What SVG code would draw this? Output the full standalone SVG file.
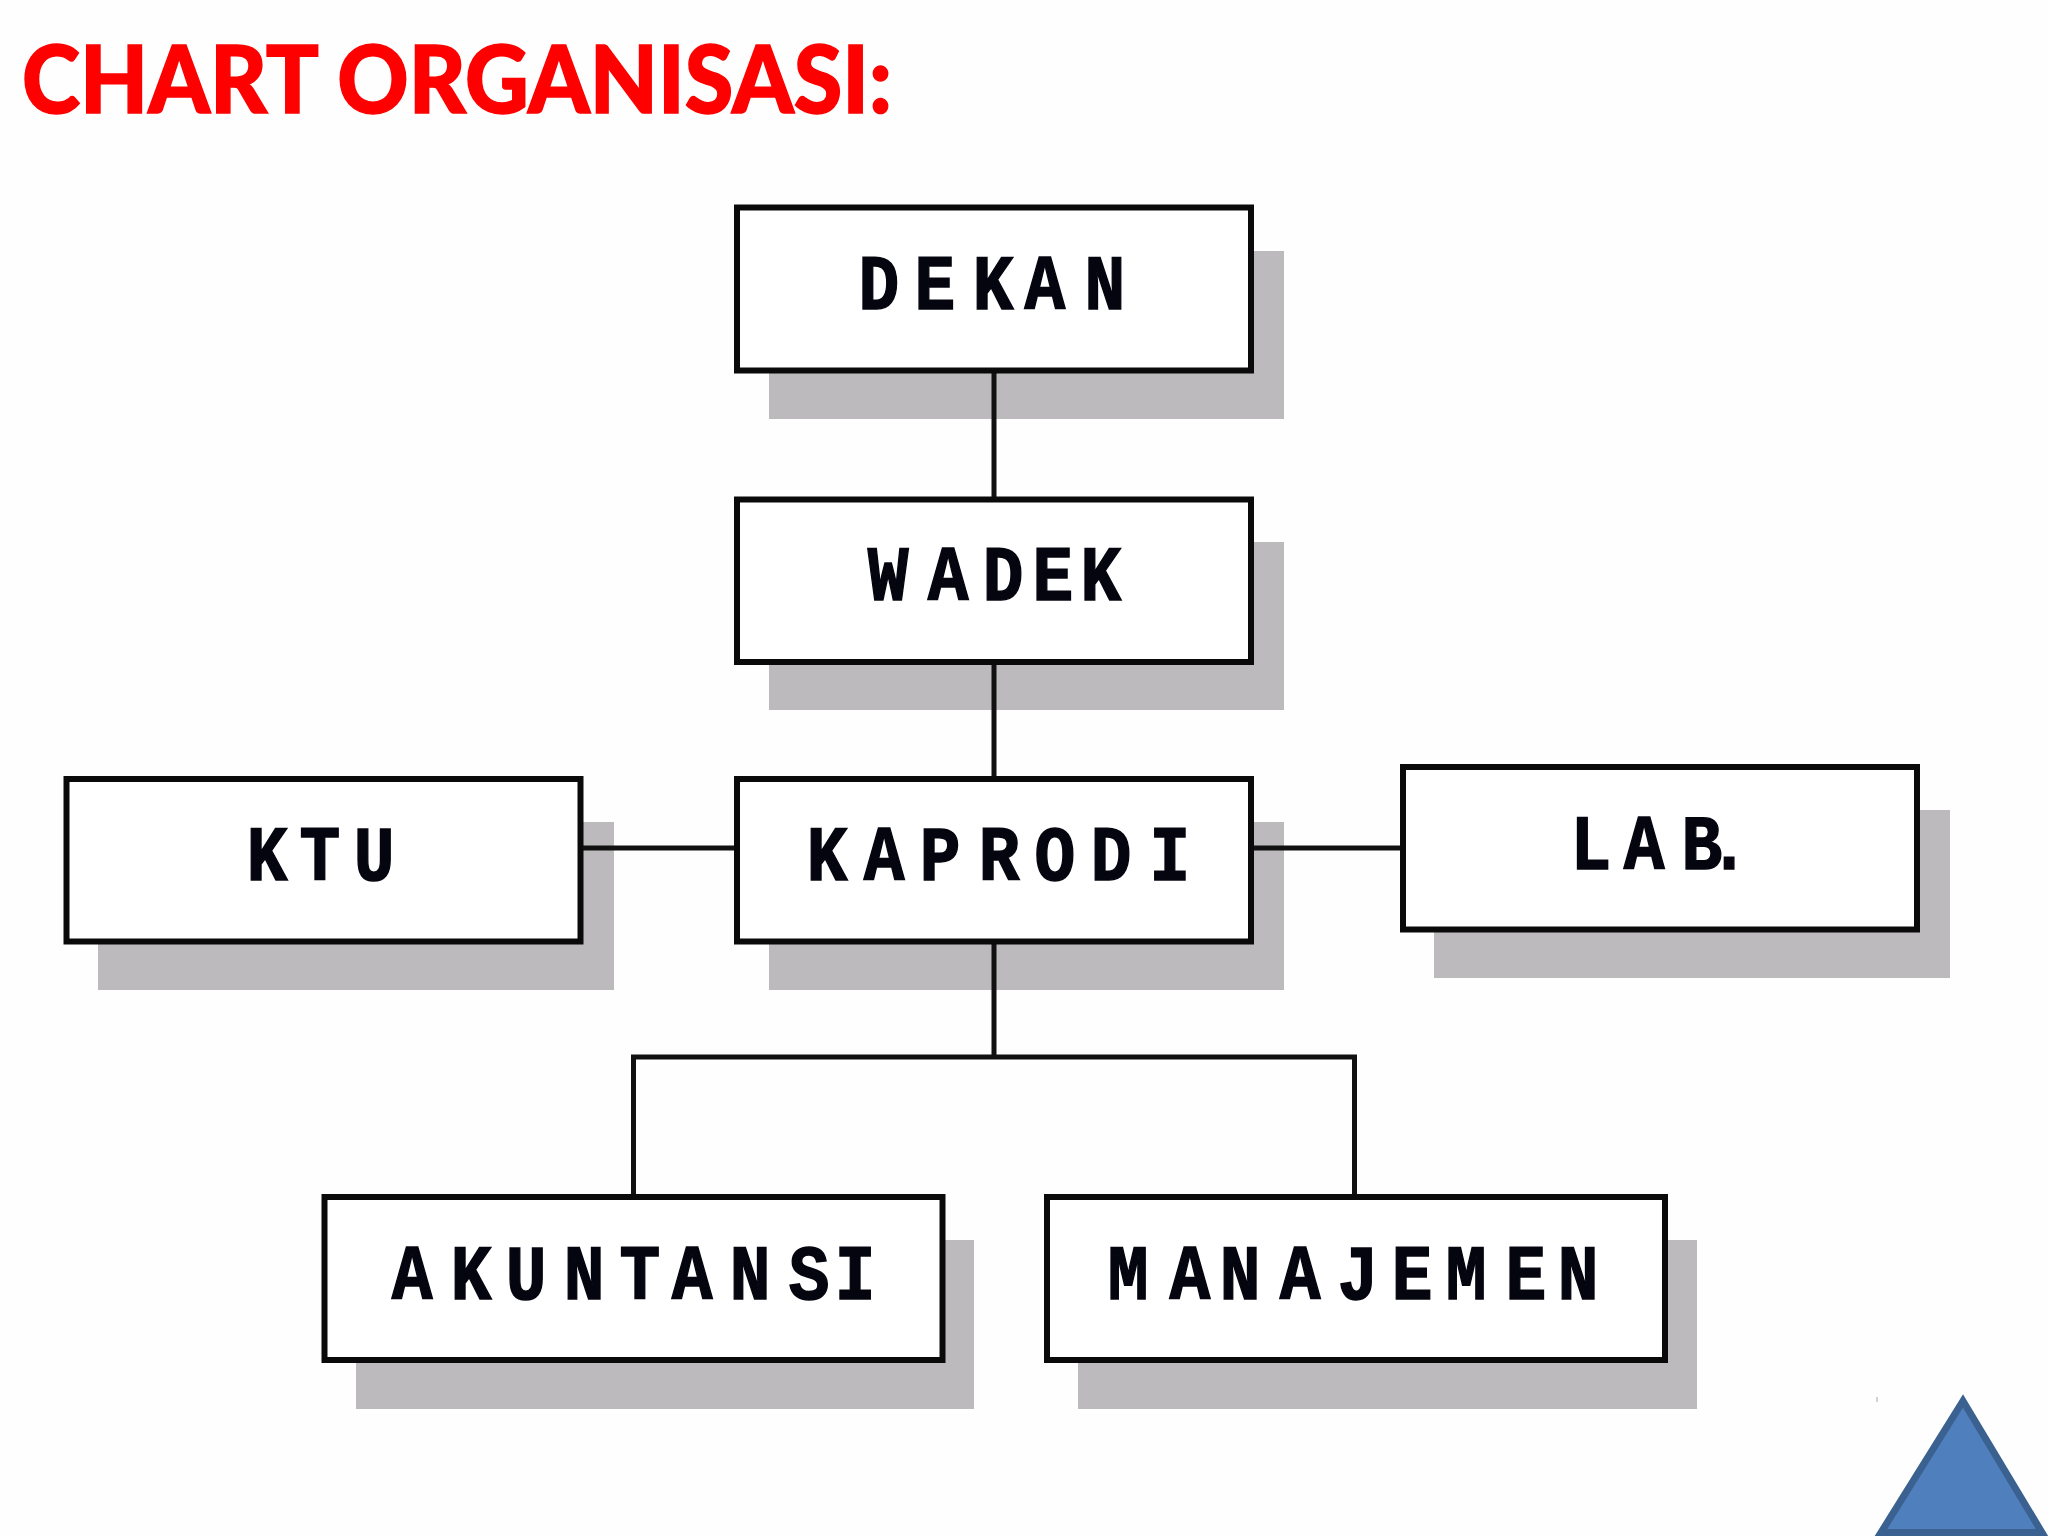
<svg xmlns="http://www.w3.org/2000/svg" width="2048" height="1536" viewBox="0 0 2048 1536">
<style>
.s{fill:#bcbabd}
.b{fill:#fff;stroke:#0a0a0a;stroke-width:6}
.t{font-family:"Liberation Mono",monospace;font-weight:700;font-size:78px;fill:#050510;stroke:#050510;stroke-width:1.500;text-anchor:middle}
.c{fill:none;stroke:#111;stroke-width:5}
</style>
<rect width="2048" height="1536" fill="#fefefe"/>
<text id="title" x="22" y="113" textLength="870" lengthAdjust="spacingAndGlyphs" style="font-family:Lato,'Liberation Sans',sans-serif;font-weight:900;font-size:93px;fill:#fe0000;stroke:#fe0000;stroke-width:1.500">CHART ORGANISASI:</text>
<g id="shadows">
<rect class="s" x="769" y="251" width="515" height="168"/>
<rect class="s" x="769" y="542" width="515" height="168"/>
<rect class="s" x="769" y="822" width="515" height="168"/>
<rect class="s" x="98" y="822" width="516" height="168"/>
<rect class="s" x="1434" y="810" width="516" height="168"/>
<rect class="s" x="356" y="1240" width="618" height="169"/>
<rect class="s" x="1078" y="1240" width="619" height="169"/>
</g>
<g id="connectors">
<path class="c" d="M994 372V497M994 663V777M582 848H735M1253 848H1401M994 943V1057M633.500 1195V1057H1354.500V1195"/>
</g>
<g id="dekan"><rect class="b" x="737" y="207.500" width="514" height="163"/><text class="t" transform="scale(.87 1)" y="309" x="1010.300 1074.700 1141.400 1201.100 1270.100">DEKAN</text></g>
<g id="wadek"><rect class="b" x="737" y="499.500" width="514" height="162.500"/><text class="t" transform="scale(.87 1)" y="600" x="1020.700 1089.700 1152.900 1210.300 1265.500">WADEK</text></g>
<g id="kaprodi"><rect class="b" x="737" y="779" width="514" height="162.500"/><text class="t" transform="scale(.87 1)" y="880" x="950.600 1016.100 1080.500 1148.300 1212.600 1277 1344.800">KAPRODI</text></g>
<g id="ktu"><rect class="b" x="66.500" y="779" width="514" height="162.500"/><text class="t" transform="scale(.87 1)" y="880" x="306.900 367.800 429.900">KTU</text></g>
<g id="lab"><rect class="b" x="1403" y="767" width="514" height="162.500"/><text class="t" transform="scale(.87 1)" y="869" x="1828.700 1889.700 1956.300 1987.400">LAB.</text></g>
<g id="akuntansi"><rect class="b" x="324.500" y="1197" width="618" height="163"/><text class="t" transform="scale(.87 1)" y="1299" x="473.600 541.400 604.600 671.300 735.600 795.400 862.100 929.900 982.800">AKUNTANSI</text></g>
<g id="manajemen"><rect class="b" x="1047" y="1197" width="618" height="163"/><text class="t" transform="scale(.87 1)" y="1299" x="1296.600 1367.800 1425.300 1494.300 1560.900 1623 1685.100 1754 1813.800">MANAJEMEN</text></g>
<path d="M1877 1397V1402" stroke="#aaa" stroke-width="1"/>
<polygon id="triangle" points="1963,1401 2042,1532.500 1881,1532.500" fill="#4f7fbd" stroke="#3a6190" stroke-width="7"/>
</svg>
